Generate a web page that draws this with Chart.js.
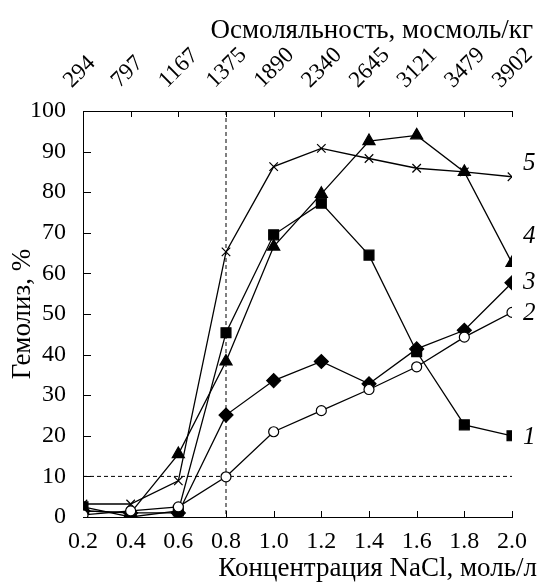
<!DOCTYPE html>
<html><head><meta charset="utf-8">
<script src="https://cdn.jsdelivr.net/npm/chart.js@4/dist/chart.umd.min.js"></script>
<style>html,body{margin:0;padding:0;background:#fff}</style>
</head><body>
<canvas id="c" width="540" height="583" style="width:540px;height:583px;display:block"></canvas>
<script>
// ---- data ----
const concentrations = [0.2, 0.4, 0.6, 0.8, 1.0, 1.2, 1.4, 1.6, 1.8, 2.0];
const osmolalityLabels = ['294', '797', '1167', '1375', '1890', '2340', '2645', '3121', '3479', '3902'];
const series1 = [2.5, 0, 1.5, 45.4, 69.5, 77.3, 64.5, 40.7, 22.7, 20.0];
const series2 = [0.5, 1.5, 2.5, 9.9, 21.0, 26.2, 31.4, 37.0, 44.3, 50.4];
const series3 = [1.5, 1.0, 1.0, 25.1, 33.6, 38.3, 32.8, 41.4, 46.0, 57.7];
const series4 = [1.5, 1.0, 15.5, 38.3, 66.6, 79.6, 92.6, 94.0, 85.0, 62.6];
const series5 = [3.2, 3.2, 8.9, 65.3, 86.3, 90.8, 88.3, 85.9, 85.0, 83.8];
const seriesNames = ['1', '2', '3', '4', '5'];
const seriesNameLevels = [19.7, 50.2, 57.9, 69.0, 87.2];
const refConcentration = 0.8;
const refHemolysis = 10;
const xTitle = 'Концентрация NaCl, моль/л';
const x2Title = 'Осмоляльность, мосмоль/кг';
const yTitle = 'Гемолиз, %';

const FONT = '"Liberation Serif", "Times New Roman", serif';
const toPts = arr => arr.map((v, i) => ({x: concentrations[i], y: v}));

function ds(label, data, style, radius, bg, order) {
  return {
    label, data: toPts(data), borderColor: '#000', borderWidth: 1.3,
    pointStyle: style, pointRadius: radius, pointHoverRadius: radius,
    pointBackgroundColor: bg, pointBorderColor: '#000', pointBorderWidth: 1.2,
    fill: false, tension: 0, order
  };
}

const overlay = {
  id: 'overlay',
  beforeDatasetsDraw(chart) {
    const {ctx} = chart;
    const x = chart.scales.x, y = chart.scales.y;
    ctx.save();
    ctx.strokeStyle = '#000';
    ctx.lineWidth = 1;
    ctx.setLineDash([4, 3]);
    const px = x.getPixelForValue(refConcentration);
    ctx.beginPath(); ctx.moveTo(px, y.top); ctx.lineTo(px, y.bottom); ctx.stroke();
    const py = y.getPixelForValue(refHemolysis);
    ctx.beginPath(); ctx.moveTo(x.left, py); ctx.lineTo(x.right, py); ctx.stroke();
    ctx.setLineDash([]);
    // inward tick marks
    ctx.beginPath();
    x.ticks.forEach(t => {
      const p = Math.round(x.getPixelForValue(t.value)) + 0.5;
      ctx.moveTo(p, y.bottom); ctx.lineTo(p, y.bottom - 6);
      ctx.moveTo(p, y.top); ctx.lineTo(p, y.top + 6);
    });
    y.ticks.forEach(t => {
      const p = Math.round(y.getPixelForValue(t.value)) + 0.5;
      ctx.moveTo(x.left, p); ctx.lineTo(x.left + 8, p);
    });
    ctx.stroke();
    ctx.restore();
  },
  afterDraw(chart) {
    const {ctx} = chart;
    const y = chart.scales.y;
    ctx.save();
    ctx.fillStyle = '#000';
    ctx.font = 'italic 25px ' + FONT;
    ctx.textAlign = 'left';
    ctx.textBaseline = 'middle';
    seriesNames.forEach((n, i) => {
      ctx.fillText(n, 523, y.getPixelForValue(seriesNameLevels[i]));
    });
    ctx.font = '27px ' + FONT;
    ctx.textAlign = 'right';
    ctx.textBaseline = 'alphabetic';
    ctx.fillText(xTitle, 537, 576);
    ctx.fillText(x2Title, 533, 38);
    ctx.translate(30, (y.top + y.bottom) / 2);
    ctx.rotate(-Math.PI / 2);
    ctx.textAlign = 'center';
    ctx.fillText(yTitle, 0, 0);
    ctx.restore();
  }
};

new Chart(document.getElementById('c'), {
  type: 'line',
  data: {
    datasets: [
      ds('2', series2, 'circle', 5, '#fff', 1),
      ds('1', series1, 'rect', 7, '#000', 2),
      ds('3', series3, 'rectRot', 7, '#000', 3),
      ds('4', series4, 'triangle', 7, '#000', 4),
      ds('5', series5, 'crossRot', 6, '#000', 5)
    ]
  },
  options: {
    responsive: false,
    animation: false,
    devicePixelRatio: 1,
    layout: {padding: {left: 0, right: 28, top: 0, bottom: 0}},
    plugins: {legend: {display: false}, tooltip: {enabled: false}},
    scales: {
      x: {
        type: 'linear', position: 'bottom', min: 0.2, max: 2.0,
        grid: {display: false},
        border: {display: true, color: '#000', width: 1},
        ticks: {stepSize: 0.2, color: '#000', font: {family: FONT, size: 24}, padding: 2,
          maxRotation: 0, minRotation: 0,
          callback: v => Number(v).toFixed(1)},
        afterFit: s => { s.height = 66; s.paddingLeft = 0; s.paddingRight = 0; }
      },
      x2: {
        type: 'linear', position: 'top', min: 0.2, max: 2.0,
        grid: {display: false},
        border: {display: true, color: '#000', width: 1},
        ticks: {stepSize: 0.2, color: '#000', font: {family: FONT, size: 23}, padding: 9,
          maxRotation: 45, minRotation: 45, labelOffset: 4,
          callback: v => osmolalityLabels[Math.round((v - concentrations[0]) / 0.2)] ?? ''},
        afterFit: s => { s.height = 111; s.paddingLeft = 0; s.paddingRight = 0; }
      },
      y: {
        type: 'linear', min: 0, max: 100,
        grid: {display: false},
        border: {display: true, color: '#000', width: 1},
        ticks: {stepSize: 10, color: '#000', font: {family: FONT, size: 24}, padding: 9},
        afterFit: s => { s.width = 83; s.paddingTop = 0; s.paddingBottom = 0; }
      }
    }
  },
  plugins: [overlay]
});
</script>
</body></html>
